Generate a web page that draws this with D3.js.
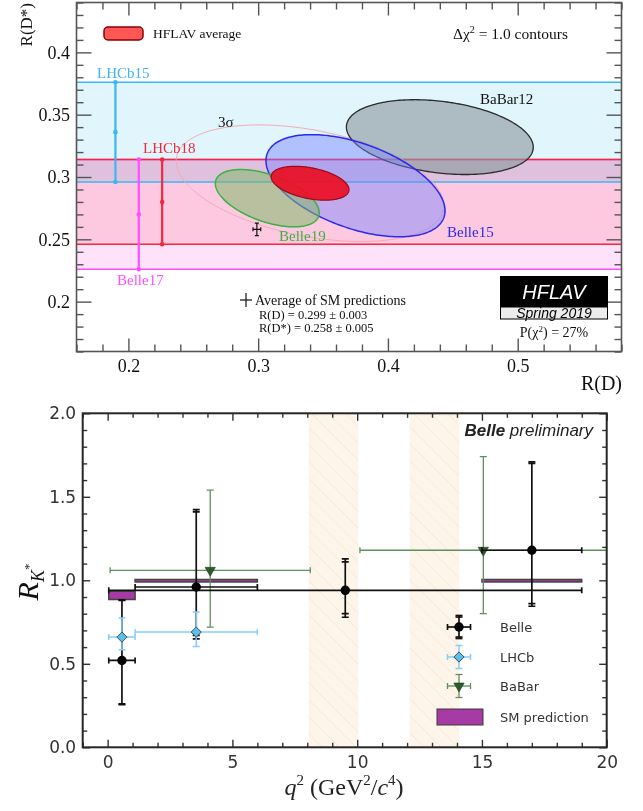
<!DOCTYPE html>
<html><head><meta charset="utf-8">
<script src="https://cdn.jsdelivr.net/npm/d3@7/dist/d3.min.js"></script>
<style>
body{margin:0;background:#fff;}
svg{display:block;}
.serif{font-family:"Liberation Serif","Times New Roman",serif;}
.sans{font-family:"DejaVu Sans",Arial,sans-serif;}
.lsans{font-family:"Liberation Sans",Arial,sans-serif;}
</style></head><body>
<svg id="chart" width="643" height="811"></svg>
<script>
// ================= TOP PANEL DATA: R(D) vs R(D*) =================
const bandNames = ["Belle17", "LHCb18", "LHCb15"];   // R(D*)-only measurements
const bandRDs   = [0.270, 0.280, 0.336];
const bandErr   = [0.044, 0.034, 0.040];

const contourNames  = ["BaBar12", "Belle15", "Belle19", "HFLAV average"];
const contourRD     = [0.440, 0.375, 0.307, 0.340];
const contourRDs    = [0.332, 0.293, 0.283, 0.295];
const contourSigRD  = [0.072, 0.069, 0.040, 0.030];
const contourSigRDs = [0.030, 0.041, 0.023, 0.0136];
const contourRho    = [-0.27, -0.49, -0.51, -0.38];
const threeSigmaDeltaChi2 = 11.83;

const smRD = 0.299, smRDErr = 0.003;
const smRDs = 0.258, smRDsErr = 0.005;
const pChi2Text = "27%";

const topXTicks = [0.2, 0.3, 0.4, 0.5];
const topYTicks = [0.2, 0.25, 0.3, 0.35, 0.4];

// ================= BOTTOM PANEL DATA: R_K* vs q^2 =================
const belleQlo = [0.045, 1.1, 0.045, 15.0];
const belleQhi = [1.1, 6.0, 19.0, 19.0];
const belleR   = [0.52, 0.96, 0.94, 1.18];
const belleUp  = [0.36, 0.45, 0.17, 0.52];
const belleDn  = [0.26, 0.29, 0.14, 0.32];
const belleSys = [0.05, 0.11, 0.08, 0.10];

const lhcbQlo = [0.045, 1.1];
const lhcbQhi = [1.1, 6.0];
const lhcbR   = [0.66, 0.69];
const lhcbUp  = [0.11, 0.11];
const lhcbDn  = [0.07, 0.07];
const lhcbSys = [0.03, 0.05];

const babarQlo = [0.10, 10.11];
const babarQhi = [8.12, 20.0];
const babarR   = [1.06, 1.18];
const babarUp  = [0.48, 0.56];
const babarDn  = [0.34, 0.38];

const smQlo = [0.045, 1.1, 15.0];
const smQhi = [1.1, 6.0, 19.0];
const smLo  = [0.885, 0.99, 0.99];
const smHi  = [0.935, 1.005, 1.005];

const vetoLo = [8.05, 12.1];
const vetoHi = [10.05, 14.1];

const botXTicks = [0, 5, 10, 15, 20];
const botYTicks = [0.0, 0.5, 1.0, 1.5, 2.0];
const legendNames = ["Belle", "LHCb", "BaBar", "SM prediction"];

// ================= STYLES / LAYOUT =================
const bandAtRD  = {Belle17: 0.208, LHCb18: 0.226, LHCb15: 0.190};
const bandFill  = {Belle17: "#fde2f9", LHCb18: "#ffe3e7", LHCb15: "#e1f5fc"};
const bandColor = {Belle17: "#ff4dff", LHCb18: "#f2293d", LHCb15: "#3db6f0"};
const contourStyle = {
  "BaBar12":       {fill: "#8a9a9e", op: 0.62, stroke: "#2a2a2a", sw: 1.3},
  "Belle15":       {fill: "#7882ff", op: 0.45, stroke: "#2a2aee", sw: 1.5},
  "Belle19":       {fill: "#7fb86a", op: 0.55, stroke: "#3cb043", sw: 1.5},
  "HFLAV average": {fill: "#ea1229", op: 0.95, stroke: "#9a0a18", sw: 1.2}
};

const svg = d3.select("#chart");
const defs = svg.append("defs");

// ---------------- TOP PANEL ----------------
const TL = 76.5, TR = 621.5, TT = 2.5, TB = 351.5;
const xT = d3.scaleLinear().domain([0.16, 0.58]).range([TL, TR]);
const yT = d3.scaleLinear().domain([0.16, 0.44]).range([TB, TT]);
defs.append("clipPath").attr("id", "clipT").append("rect")
  .attr("x", TL).attr("y", TT).attr("width", TR - TL).attr("height", TB - TT);

const topG = svg.append("g");
const plotT = topG.append("g").attr("clip-path", "url(#clipT)");

// bands
const bandData = bandNames.map((n, i) => ({name: n, c: bandRDs[i], e: bandErr[i]}));
const bandG = plotT.append("g").style("isolation", "isolate");
bandG.selectAll("rect").data(bandData).join("rect")
  .attr("x", TL).attr("width", TR - TL)
  .attr("y", d => yT(d.c + d.e)).attr("height", d => yT(d.c - d.e) - yT(d.c + d.e))
  .attr("fill", d => bandFill[d.name]).style("mix-blend-mode", "multiply");

bandData.forEach(d => {
  [d.c - d.e, d.c + d.e].forEach(v => {
    plotT.append("line").attr("x1", TL).attr("x2", TR).attr("y1", yT(v)).attr("y2", yT(v))
      .attr("stroke", bandColor[d.name]).attr("stroke-width", 1.5);
  });
});
bandData.forEach(d => {
  const x = xT(bandAtRD[d.name]);
  plotT.append("line").attr("x1", x).attr("x2", x).attr("y1", yT(d.c - d.e)).attr("y2", yT(d.c + d.e))
    .attr("stroke", bandColor[d.name]).attr("stroke-width", 2.2);
  plotT.selectAll(null).data([d.c - d.e, d.c, d.c + d.e]).join("circle")
    .attr("cx", x).attr("cy", v => yT(v)).attr("r", 2.3).attr("fill", bandColor[d.name]);
});

// contours
function ellipsePts(cx, cy, sx, sy, rho, k) {
  return d3.range(0, 241).map(j => {
    const t = 2 * Math.PI * j / 240;
    return [cx + k * sx * Math.cos(t), cy + k * sy * (rho * Math.cos(t) + Math.sqrt(1 - rho * rho) * Math.sin(t))];
  });
}
const ellLine = d3.line().x(d => xT(d[0])).y(d => yT(d[1])).curve(d3.curveLinearClosed);
const contourData = contourNames.map((n, i) => ({name: n, cx: contourRD[i], cy: contourRDs[i],
  sx: contourSigRD[i], sy: contourSigRDs[i], rho: contourRho[i]}));

const avg = contourData[3];
plotT.append("path").attr("d", ellLine(ellipsePts(avg.cx, avg.cy, avg.sx, avg.sy, avg.rho, Math.sqrt(threeSigmaDeltaChi2))))
  .attr("fill", "none").attr("stroke", "#f2a9b6").attr("stroke-width", 1);

plotT.selectAll("path.contour").data(contourData).join("path").attr("class", "contour")
  .attr("d", d => ellLine(ellipsePts(d.cx, d.cy, d.sx, d.sy, d.rho, 1)))
  .attr("fill", d => contourStyle[d.name].fill).attr("fill-opacity", d => contourStyle[d.name].op)
  .attr("stroke", d => contourStyle[d.name].stroke).attr("stroke-width", d => contourStyle[d.name].sw);

// SM average cross
function cross(g, x, y, x0, x1, y0, y1, color, sw, cap) {
  g.append("line").attr("x1", x0).attr("x2", x1).attr("y1", y).attr("y2", y).attr("stroke", color).attr("stroke-width", sw);
  g.append("line").attr("x1", x).attr("x2", x).attr("y1", y0).attr("y2", y1).attr("stroke", color).attr("stroke-width", sw);
  if (cap) {
    [x0, x1].forEach(xx => g.append("line").attr("x1", xx).attr("x2", xx).attr("y1", y - cap).attr("y2", y + cap).attr("stroke", color).attr("stroke-width", sw));
    [y0, y1].forEach(yy => g.append("line").attr("x1", x - cap).attr("x2", x + cap).attr("y1", yy).attr("y2", yy).attr("stroke", color).attr("stroke-width", sw));
  }
}
cross(plotT, xT(smRD), yT(smRDs), xT(smRD - smRDErr), xT(smRD + smRDErr), yT(smRDs - smRDsErr), yT(smRDs + smRDsErr), "#111", 1.2, 2);

// axes top panel
function axisStyle(g, color) {
  g.select(".domain").remove();
  g.selectAll("line").attr("stroke", color).attr("stroke-width", 1.4);
}
const tfmt = d3.format(".2~f");
const minorXT = d3.range(0.16, 0.581, 0.02).filter(v => !topXTicks.some(t => Math.abs(t - v) < 1e-6));
const minorYT = d3.range(0.16, 0.441, 0.01).filter(v => !topYTicks.some(t => Math.abs(t - v) < 1e-6));
[[d3.axisBottom, TB, true], [d3.axisTop, TT, false]].forEach(([ax, y, lab]) => {
  const g1 = topG.append("g").attr("transform", `translate(0,${y})`)
    .call(ax(xT).tickValues(topXTicks).tickSize(-13).tickPadding(7.7).tickFormat(lab ? tfmt : ""));
  axisStyle(g1, "#555");
  g1.selectAll("text").attr("class", "serif").attr("font-size", 18).attr("fill", "#111").attr("font-family", null);
  const g2 = topG.append("g").attr("transform", `translate(0,${y})`)
    .call(ax(xT).tickValues(minorXT).tickSize(-7).tickFormat(""));
  axisStyle(g2, "#555");
});
[[d3.axisLeft, TL, true], [d3.axisRight, TR, false]].forEach(([ax, x, lab]) => {
  const g1 = topG.append("g").attr("transform", `translate(${x},0)`)
    .call(ax(yT).tickValues(topYTicks).tickSize(-15).tickPadding(6.5).tickFormat(lab ? tfmt : ""));
  axisStyle(g1, "#555");
  g1.selectAll("text").attr("class", "serif").attr("font-size", 18).attr("fill", "#111").attr("font-family", null);
  const g2 = topG.append("g").attr("transform", `translate(${x},0)`)
    .call(ax(yT).tickValues(minorYT).tickSize(-7).tickFormat(""));
  axisStyle(g2, "#555");
});
topG.append("rect").attr("x", TL).attr("y", TT).attr("width", TR - TL).attr("height", TB - TT)
  .attr("fill", "none").attr("stroke", "#555").attr("stroke-width", 1.6);

// top texts
function txt(g, x, y, html, size, opts = {}) {
  const t = g.append("text").attr("x", x).attr("y", y).attr("font-size", size)
    .attr("class", opts.cls || "serif").attr("fill", opts.fill || "#111")
    .attr("text-anchor", opts.anchor || "start");
  if (opts.style) t.attr("font-style", opts.style);
  if (opts.weight) t.attr("font-weight", opts.weight);
  if (opts.transform) t.attr("transform", opts.transform);
  t.html(html);
  return t;
}
txt(topG, 97, 78, "LHCb15", 15, {fill: bandColor.LHCb15});
txt(topG, 143, 153, "LHCb18", 15, {fill: bandColor.LHCb18});
txt(topG, 117, 285, "Belle17", 15, {fill: bandColor.Belle17});
txt(topG, 480, 104, "BaBar12", 15, {fill: "#111"});
txt(topG, 447, 237, "Belle15", 15, {fill: "#2a2aee"});
txt(topG, 279, 241, "Belle19", 15, {fill: "#3cb043"});
txt(topG, 218, 127, "3σ", 15, {fill: "#111"});

// HFLAV average legend
topG.append("rect").attr("x", 104).attr("y", 27).attr("width", 39).attr("height", 13).attr("rx", 4)
  .attr("fill", "#ff5656").attr("stroke", "#8b0000").attr("stroke-width", 1.5);
txt(topG, 153, 38, "HFLAV average", 13.5);
txt(topG, 453, 39, 'Δχ<tspan dy="-6" font-size="10">2</tspan><tspan dy="6"> = 1.0 contours</tspan>', 15.5);

// SM legend
cross(topG, 246, 300, 240, 252, 293, 307, "#111", 1.2, 0);
txt(topG, 255, 305, "Average of SM predictions", 14);
txt(topG, 259, 319, "R(D) = " + smRD.toFixed(3) + " ± " + smRDErr.toFixed(3), 12.5);
txt(topG, 259, 332, "R(D*) = " + smRDs.toFixed(3) + " ± " + smRDsErr.toFixed(3), 12.5);

// HFLAV logo
topG.append("rect").attr("x", 500).attr("y", 276).attr("width", 108).attr("height", 31).attr("fill", "#000");
topG.append("rect").attr("x", 500.5).attr("y", 307).attr("width", 107).attr("height", 12).attr("fill", "#ececec").attr("stroke", "#000").attr("stroke-width", 1);
txt(topG, 554, 299, "HFLAV", 20, {cls: "lsans", fill: "#fff", anchor: "middle", style: "italic"});
txt(topG, 554, 317.5, "Spring 2019", 14, {cls: "lsans", fill: "#000", anchor: "middle", style: "italic"});
txt(topG, 554, 337, 'P(χ<tspan dy="-5" font-size="9">2</tspan><tspan dy="5">) = ' + pChi2Text + '</tspan>', 14, {anchor: "middle"});

// axis titles
txt(topG, 622, 390, "R(D)", 20, {anchor: "end"});
txt(topG, 0, 0, "R(D*)", 17, {anchor: "end", transform: "translate(32,3) rotate(-90)"});

// ---------------- BOTTOM PANEL ----------------
const BL = 82.7, BR = 606.7, BT = 413.3, BB = 747.3;
const xB = d3.scaleLinear().domain([-1, 20]).range([BL, BR]);
const yB = d3.scaleLinear().domain([0, 2]).range([BB, BT]);
defs.append("clipPath").attr("id", "clipB").append("rect")
  .attr("x", BL).attr("y", BT).attr("width", BR - BL).attr("height", BB - BT);
const pat = defs.append("pattern").attr("id", "hatch").attr("patternUnits", "userSpaceOnUse")
  .attr("width", 17).attr("height", 17);
pat.append("rect").attr("width", 17).attr("height", 17).attr("fill", "#fdf5e9");
pat.append("path").attr("d", "M0,0 L17,17 M-5,12 L5,22 M12,-5 L22,5").attr("stroke", "#f8e5cf").attr("stroke-width", 0.8);

const botG = svg.append("g");
const plotB = botG.append("g").attr("clip-path", "url(#clipB)");

// veto bands
plotB.selectAll("rect.veto").data(vetoLo.map((v, i) => [v, vetoHi[i]])).join("rect").attr("class", "veto")
  .attr("x", d => xB(d[0])).attr("width", d => xB(d[1]) - xB(d[0]))
  .attr("y", BT).attr("height", BB - BT).attr("fill", "url(#hatch)");

// SM boxes
plotB.selectAll("rect.sm").data(smQlo.map((q, i) => ({q0: q, q1: smQhi[i], lo: smLo[i], hi: smHi[i]}))).join("rect")
  .attr("class", "sm")
  .attr("x", d => xB(d.q0)).attr("width", d => xB(d.q1) - xB(d.q0))
  .attr("y", d => yB(d.hi)).attr("height", d => yB(d.lo) - yB(d.hi))
  .attr("fill", "#a63ba6").attr("stroke", "#444").attr("stroke-width", 1.5);

function errBars(g, pts, color, sw, capW, capH, doubleCap) {
  pts.forEach(p => {
    const xc = xB((p.q0 + p.q1) / 2), yc = yB(p.r);
    const tUp = Math.hypot(p.up, p.sys), tDn = Math.hypot(p.dn, p.sys);
    g.append("line").attr("x1", xB(p.q0)).attr("x2", xB(p.q1)).attr("y1", yc).attr("y2", yc).attr("stroke", color).attr("stroke-width", sw);
    [p.q0, p.q1].forEach(q => g.append("line").attr("x1", xB(q)).attr("x2", xB(q)).attr("y1", yc - capH).attr("y2", yc + capH).attr("stroke", color).attr("stroke-width", sw));
    g.append("line").attr("x1", xc).attr("x2", xc).attr("y1", yB(p.r - tDn)).attr("y2", yB(p.r + tUp)).attr("stroke", color).attr("stroke-width", sw);
    const caps = doubleCap ? [p.r - tDn, p.r - p.dn, p.r + p.up, p.r + tUp] : [p.r - tDn, p.r + tUp];
    caps.forEach(v => g.append("line").attr("x1", xc - capW).attr("x2", xc + capW).attr("y1", yB(v)).attr("y2", yB(v)).attr("stroke", color).attr("stroke-width", sw));
  });
}
const bellePts = belleR.map((r, i) => ({q0: belleQlo[i], q1: belleQhi[i], r, up: belleUp[i], dn: belleDn[i], sys: belleSys[i]}));
const lhcbPts = lhcbR.map((r, i) => ({q0: lhcbQlo[i], q1: lhcbQhi[i], r, up: lhcbUp[i], dn: lhcbDn[i], sys: lhcbSys[i]}));
const babarPts = babarR.map((r, i) => ({q0: babarQlo[i], q1: babarQhi[i], r, up: babarUp[i], dn: babarDn[i], sys: 0}));

const triDown = d3.symbol().type(d3.symbolTriangle).size(46);
const diamond = d3.symbol().type(d3.symbolSquare).size(52);

errBars(plotB, babarPts, "#5f8f5f", 1.3, 3.5, 3, false);
plotB.selectAll("path.babar").data(babarPts).join("path").attr("class", "babar")
  .attr("d", triDown).attr("transform", d => `translate(${xB((d.q0 + d.q1) / 2)},${yB(d.r)}) rotate(180)`)
  .attr("fill", "#2b5a2b").attr("stroke", "#1e3e1e").attr("stroke-width", 0.6);
errBars(plotB, bellePts, "#111", 1.7, 3.5, 3, true);
plotB.selectAll("circle.belle").data(bellePts).join("circle").attr("class", "belle")
  .attr("cx", d => xB((d.q0 + d.q1) / 2)).attr("cy", d => yB(d.r)).attr("r", 4.7).attr("fill", "#000");
errBars(plotB, lhcbPts, "#87cefa", 1.5, 3.5, 3, false);
plotB.selectAll("path.lhcb").data(lhcbPts).join("path").attr("class", "lhcb")
  .attr("d", diamond).attr("transform", d => `translate(${xB((d.q0 + d.q1) / 2)},${yB(d.r)}) rotate(45)`)
  .attr("fill", "#5bbfea").attr("stroke", "#3a4a55").attr("stroke-width", 0.9);

// bottom axes
const minorXB = d3.range(-1, 20.01, 1).filter(v => !botXTicks.includes(v));
const minorYB = d3.range(0, 2.001, 0.1).map(v => +v.toFixed(1)).filter(v => !botYTicks.some(t => Math.abs(t - v) < 1e-6));
[[d3.axisBottom, BB, true], [d3.axisTop, BT, false]].forEach(([ax, y, lab]) => {
  const g1 = botG.append("g").attr("transform", `translate(0,${y})`)
    .call(ax(xB).tickValues(botXTicks).tickSize(-7.5).tickPadding(9).tickFormat(lab ? d3.format("d") : ""));
  axisStyle(g1, "#333");
  g1.selectAll("text").attr("class", "sans").attr("font-size", 17).attr("fill", "#333").attr("font-family", null);
  const g2 = botG.append("g").attr("transform", `translate(0,${y})`)
    .call(ax(xB).tickValues(minorXB).tickSize(-4.5).tickFormat(""));
  axisStyle(g2, "#333");
});
[[d3.axisLeft, BL, true], [d3.axisRight, BR, false]].forEach(([ax, x, lab]) => {
  const g1 = botG.append("g").attr("transform", `translate(${x},0)`)
    .call(ax(yB).tickValues(botYTicks).tickSize(-7.5).tickPadding(6.5).tickFormat(lab ? d3.format(".1f") : ""));
  axisStyle(g1, "#333");
  g1.selectAll("text").attr("class", "sans").attr("font-size", 17).attr("fill", "#333").attr("font-family", null);
  const g2 = botG.append("g").attr("transform", `translate(${x},0)`)
    .call(ax(yB).tickValues(minorYB).tickSize(-4.5).tickFormat(""));
  axisStyle(g2, "#333");
});
botG.append("rect").attr("x", BL).attr("y", BT).attr("width", BR - BL).attr("height", BB - BT)
  .attr("fill", "none").attr("stroke", "#262626").attr("stroke-width", 2);

// Belle preliminary
txt(botG, 593, 436, '<tspan font-weight="bold">Belle</tspan> preliminary', 17, {cls: "lsans", anchor: "end", style: "italic", fill: "#222"});

// legend
const legX = 459, legTx = 500;
const legY = [627, 657, 686, 717];
function legCross(y, color, sw, dbl) {
  const g = botG.append("g");
  g.append("line").attr("x1", legX - 11.5).attr("x2", legX + 11.5).attr("y1", y).attr("y2", y).attr("stroke", color).attr("stroke-width", sw);
  g.append("line").attr("x1", legX).attr("x2", legX).attr("y1", y - 11.5).attr("y2", y + 11.5).attr("stroke", color).attr("stroke-width", sw);
  [legX - 11.5, legX + 11.5].forEach(x => g.append("line").attr("x1", x).attr("x2", x).attr("y1", y - 3).attr("y2", y + 3).attr("stroke", color).attr("stroke-width", sw));
  const caps = dbl ? [y - 11.5, y - 10, y + 10, y + 11.5] : [y - 11.5, y + 11.5];
  caps.forEach(yy => g.append("line").attr("x1", legX - 3.5).attr("x2", legX + 3.5).attr("y1", yy).attr("y2", yy).attr("stroke", color).attr("stroke-width", sw));
  return g;
}
legCross(legY[0], "#111", 1.7, true).append("circle").attr("cx", legX).attr("cy", legY[0]).attr("r", 4.7).attr("fill", "#000");
legCross(legY[1], "#87cefa", 1.5, false).append("path").attr("d", diamond)
  .attr("transform", `translate(${legX},${legY[1]}) rotate(45)`).attr("fill", "#5bbfea").attr("stroke", "#3a4a55").attr("stroke-width", 0.9);
legCross(legY[2], "#5f8f5f", 1.3, false).append("path").attr("d", triDown)
  .attr("transform", `translate(${legX},${legY[2]}) rotate(180)`).attr("fill", "#2b5a2b").attr("stroke", "#1e3e1e").attr("stroke-width", 0.6);
botG.append("rect").attr("x", 437).attr("y", 709).attr("width", 46).attr("height", 16)
  .attr("fill", "#a63ba6").attr("stroke", "#3a3a3a").attr("stroke-width", 1);
legendNames.forEach((n, i) => txt(botG, legTx, legY[i] + 5, n, 13, {cls: "sans", fill: "#333"}));

// axis titles
txt(botG, 0, 0, '<tspan font-style="italic">R</tspan><tspan font-style="italic" font-size="18" dy="6">K</tspan><tspan font-size="13" dy="-11">*</tspan>', 30,
  {anchor: "middle", transform: "translate(38,582) rotate(-90)"});
txt(botG, 344, 795, '<tspan font-style="italic">q</tspan><tspan font-size="15" dy="-10">2</tspan><tspan dy="10"> (GeV</tspan><tspan font-size="15" dy="-10">2</tspan><tspan dy="10">/</tspan><tspan font-style="italic">c</tspan><tspan font-size="15" dy="-10">4</tspan><tspan dy="10">)</tspan>', 24, {anchor: "middle", fill: "#222"});
</script>
</body></html>
